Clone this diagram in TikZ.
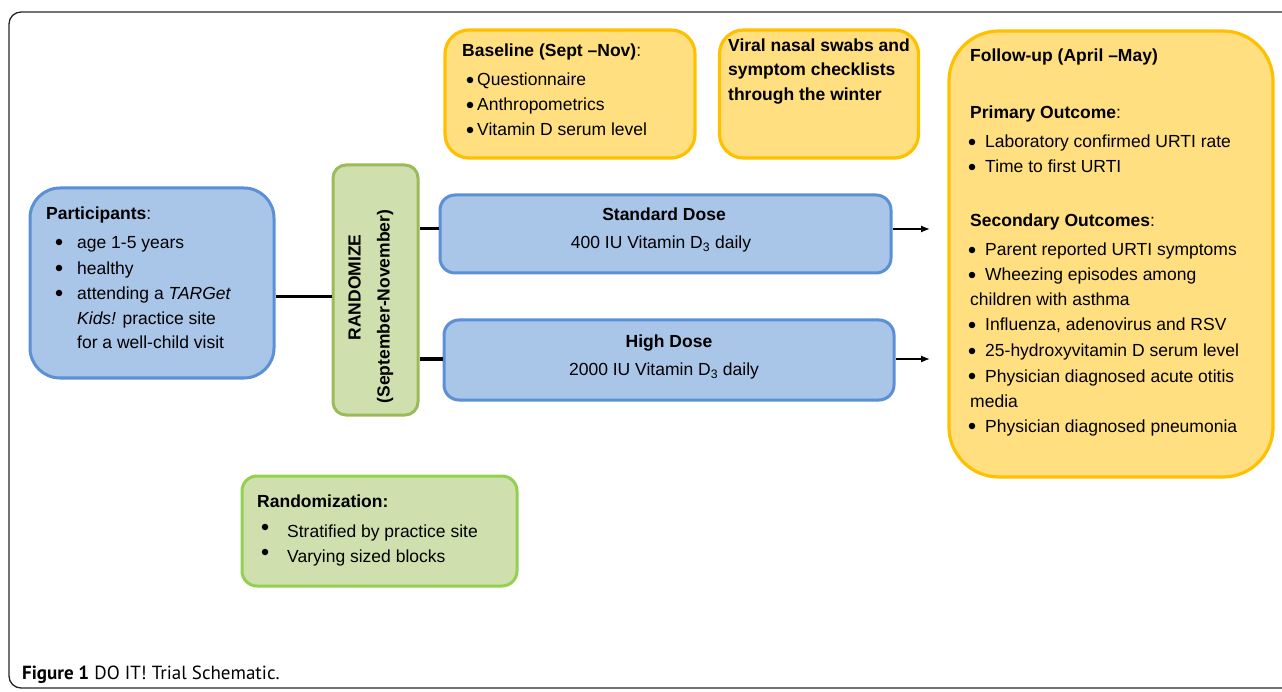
\documentclass[tikz,border=0pt]{standalone}
\usepackage{fontspec}
\setmainfont{Liberation Sans}
\newfontfamily\capfont{PT Sans}
\usetikzlibrary{arrows.meta}
\definecolor{bfill}{HTML}{A9C5E8}
\definecolor{bdraw}{HTML}{5B8FD6}
\definecolor{gfill}{HTML}{D0DFAE}
\definecolor{gdraw}{HTML}{9BBB59}
\definecolor{gdrawb}{HTML}{92D050}
\definecolor{yfill}{HTML}{FFDF80}
\definecolor{ydraw}{HTML}{FFC000}
\tikzset{
  box/.style={rectangle, inner sep=0pt, line width=3pt},
  bluebox/.style={box, fill=bfill, draw=bdraw},
  greenbox/.style={box, fill=gfill, draw=gdraw},
  yellowbox/.style={box, fill=yfill, draw=ydraw, line width=3.2pt},
  txt/.style={anchor=base west, inner sep=0pt},
  ctxt/.style={anchor=base, inner sep=0pt},
  bul/.style={circle, fill=black, inner sep=0pt, minimum size=6.5pt},
  thickline/.style={line width=3pt},
  arrowline/.style={line width=1.3pt, -{Latex[length=9pt,width=7pt]}},
}
\begin{document}
\begin{tikzpicture}[x=1pt,y=-1pt, font=\fontsize{17.5}{21}\selectfont]
\useasboundingbox (0,0) rectangle (1282,692);
\clip (0,0) rectangle (1282,692);
% frame
\draw[line width=1.3pt, black!85, rounded corners=12pt] (9,12) rectangle (1300,688);
% caption
\node[txt, font=\capfont\fontsize{19}{22}\selectfont] (cap) at (22,679) {\textbf{Figure 1} DO IT! Trial Schematic.};

% Participants
\node[bluebox, rounded corners=30pt, minimum width=244pt, minimum height=190pt] (part) at (152,283) {};
\node[txt] (pt) at (46,220) {\textbf{Participants}:};
\node[bul] (pb1) at (59,242) {};
\node[bul] (pb2) at (59,268) {};
\node[bul] (pb3) at (59,293) {};
\node[txt] (p1) at (77,249) {age 1-5 years};
\node[txt] (p2) at (77,275) {healthy};
\node[txt] (p3) at (77,300) {attending a \textit{TARGet}};
\node[txt] (p4) at (77,325) {\textit{Kids!} practice site};
\node[txt] (p5) at (77,349) {for a well-child visit};

% Randomize
\node[greenbox, rounded corners=13pt, minimum width=85pt, minimum height=250pt] (rand) at (375.5,290) {};
\node[rotate=90, inner sep=0pt, font=\bfseries\fontsize{17.5}{21}\selectfont] (rt1) at (354.5,287.5) {RANDOMIZE};
\node[rotate=90, inner sep=0pt, font=\bfseries\fontsize{17.5}{21}\selectfont] (rt2) at (385,306.5) {(September-November)};

% Doses
\node[bluebox, rounded corners=15pt, minimum width=451pt, minimum height=78pt] (std) at (665.5,234) {};
\node[ctxt] (stdt) at (664,221) {\textbf{Standard Dose}};
\node[ctxt] (stds) at (661,249) {400 IU Vitamin D\textsubscript{3} daily};
\node[bluebox, rounded corners=15pt, minimum width=450pt, minimum height=80pt] (high) at (669,360) {};
\node[ctxt] (hight) at (669,348) {\textbf{High Dose}};
\node[ctxt] (highs) at (664,376) {2000 IU Vitamin D\textsubscript{3} daily};

% Baseline
\node[yellowbox, rounded corners=24pt, minimum width=250pt, minimum height=128pt] (base) at (570,94) {};
\node[txt] (bt) at (462,57) {\textbf{Baseline (Sept –Nov)}:};
\node[bul] (bb1) at (470,80) {};
\node[bul] (bb2) at (470,105) {};
\node[bul] (bb3) at (470,130) {};
\node[txt] (b1) at (477,86) {Questionnaire};
\node[txt] (b2) at (477,111) {Anthropometrics};
\node[txt] (b3) at (477,136) {Vitamin D serum level};

% Viral
\node[yellowbox, rounded corners=24pt, minimum width=199pt, minimum height=128pt] (viral) at (819,94) {};
\node[txt] (v1) at (728,52) {\textbf{Viral nasal swabs and}};
\node[txt] (v2) at (728,76) {\textbf{symptom checklists}};
\node[txt] (v3) at (728,101) {\textbf{through the winter}};

% Follow-up
\node[yellowbox, rounded corners=50pt, minimum width=324pt, minimum height=446pt] (fu) at (1111,254) {};
\node[txt] (ft) at (970,62) {\textbf{Follow-up (April –May)}};
\node[txt] (fp) at (970,119) {\textbf{Primary Outcome}:};
\node[bul] (fb1) at (972,142) {};
\node[bul] (fb2) at (972,167) {};
\node[txt] (f1) at (985,148) {Laboratory confirmed URTI rate};
\node[txt] (f2) at (985,173) {Time to first URTI};
\node[txt] (fs) at (970,227) {\textbf{Secondary Outcomes}:};
\node[bul] (fb3) at (972,250) {};
\node[bul] (fb4) at (972,275) {};
\node[bul] (fb5) at (972,325) {};
\node[bul] (fb6) at (972,351) {};
\node[bul] (fb7) at (972,376) {};
\node[bul] (fb8) at (972,426) {};
\node[txt] (f3) at (985,256) {Parent reported URTI symptoms};
\node[txt] (f4) at (985,281) {Wheezing episodes among};
\node[txt] (f4b) at (970,306) {children with asthma};
\node[txt] (f5) at (985,331) {Influenza, adenovirus and RSV};
\node[txt] (f6) at (985,357) {25-hydroxyvitamin D serum level};
\node[txt] (f7) at (985,382) {Physician diagnosed acute otitis};
\node[txt] (f7b) at (970,407) {media};
\node[txt] (f8) at (985,432) {Physician diagnosed pneumonia};

% Randomization
\node[box, fill=gfill, draw=gdrawb, rounded corners=15pt, minimum width=275pt, minimum height=110pt] (rz) at (379.5,531) {};
\node[txt] (rzt) at (257,507) {\textbf{Randomization:}};
\node[bul] (rzb1) at (265,527) {};
\node[bul] (rzb2) at (265,552) {};
\node[txt] (rz1) at (287,537) {Stratified by practice site};
\node[txt] (rz2) at (287,562) {Varying sized blocks};

% connectors
\coordinate (a1) at (930,229);
\coordinate (a2) at (930,359);
\draw[thickline] (part.east |- 0,297) -- (rand.west |- 0,297);
\draw[thickline] (rand.east |- 0,229) -- (std.west |- 0,229);
\draw[line width=3.5pt] (rand.east |- 0,359) -- (high.west |- 0,359);
\draw[arrowline] (std.east |- a1) -- (a1);
\draw[arrowline] (high.east |- a2) -- (a2);
\end{tikzpicture}
\end{document}
